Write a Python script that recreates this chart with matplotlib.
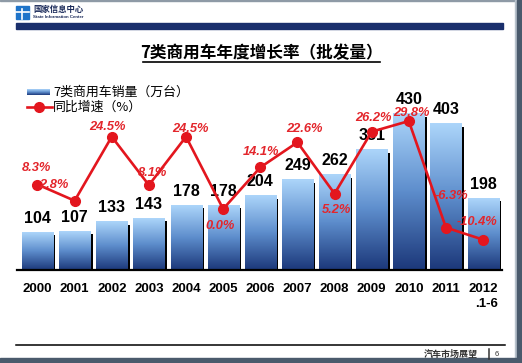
import numpy as np
import matplotlib.pyplot as plt
from matplotlib.colors import LinearSegmentedColormap
from matplotlib.lines import Line2D
from matplotlib.patches import Rectangle

# Data.
years = ['2000', '2001', '2002', '2003', '2004', '2005', '2006',
         '2007', '2008', '2009', '2010', '2011', '2012\n.1-6']
sales = [104, 107, 133, 143, 178, 178, 204, 249, 262, 331, 430, 403, 198]
growth = [8.3, 2.8, 24.5, 8.1, 24.5, 0.0, 14.1, 22.6, 5.2, 26.2, 29.8, -6.3, -10.4]

# Label offsets (pixels) for the percent labels, so they sit like the original.
pct_offsets = [(-1, 17), (-21, 16), (-4, 10), (4, 12), (4, 8), (-3, -17), (1, 15),
               (7, 13), (2, -16), (2, 14), (3, 8), (6, 32), (-6, 18)]

W, H = 522, 363
CJK = ['Noto Sans CJK SC', 'DejaVu Sans']
LAT = ['Liberation Sans', 'DejaVu Sans']
RED = '#e3161e'


def fbox(x, y, w, h):
    return [x / W, 1 - (y + h) / H, w / W, h / H]


def fx(x):
    return x / W


def fy(y):
    return 1 - y / H


fig = plt.figure(figsize=(W / 100, H / 100), dpi=100)
fig.patch.set_facecolor('white')

cmap = LinearSegmentedColormap.from_list('bar', ['#1c387a', '#5d8dcc', '#acd5fa'])
grad = np.linspace(1, 0, 128).reshape(-1, 1)

# Main chart.
ax = fig.add_axes(fbox(17, 60, 485, 210))
x = np.arange(len(years))
bw = 0.835
ax.bar(x + 0.065, np.array(sales) - 8, width=bw, color='black', zorder=1)
for i, v in enumerate(sales):
    ax.imshow(grad, cmap=cmap, aspect='auto', zorder=2,
              extent=[i - bw / 2, i + bw / 2, 0, v])
    ax.annotate(str(v), (i, v), xytext=(0, 14), textcoords='offset pixels',
                ha='center', va='center', fontsize=11.5, fontweight='bold',
                family=LAT, zorder=4)
ax.axhline(0, color='black', lw=1.6, zorder=3, clip_on=False)
ax.set_xlim(-0.552, 12.51)
ax.set_ylim(0, 578.5)
for s in ax.spines.values():
    s.set_visible(False)
ax.set_yticks([])
ax.set_xticks(x, years)
ax.tick_params(axis='x', length=0, pad=9)
for lab in ax.get_xticklabels():
    lab.set_fontsize(9.5)
    lab.set_fontweight('bold')
    lab.set_family(LAT)
    lab.set_multialignment('right')
    lab.set_linespacing(1.35)

ax2 = ax.twinx()
ax2.plot(x, growth, color=RED, lw=1.9, marker='o', ms=7, zorder=3)
ax2.set_ylim(-20.68, 50.5)
ax2.set_yticks([])
for s in ax2.spines.values():
    s.set_visible(False)
for i, g in enumerate(growth):
    ax2.annotate(f'{g:.1f}%', (i, g), xytext=pct_offsets[i], textcoords='offset pixels',
                 ha='center', va='center', fontsize=9.3, fontweight='bold',
                 style='italic', color='#e3262c', family=LAT)

# Legend.
lax = fig.add_axes(fbox(27, 89, 23, 6))
lax.imshow(grad, cmap=cmap, aspect='auto')
lax.axis('off')
fig.text(fx(53), fy(92.5), '7类商用车销量（万台）', va='center', fontsize=9.3, family=CJK)
fig.add_artist(Line2D([fx(27), fx(52)], [fy(107), fy(107)], color=RED, lw=1.9))
fig.add_artist(Line2D([fx(39)], [fy(107)], color=RED, marker='o', ms=7))
fig.text(fx(53), fy(107.5), '同比增速（%）', va='center', fontsize=9.3, family=CJK)

# Title with underline.
fig.text(fx(261.5), fy(53), '7类商用车年度增长率（批发量）', ha='center', va='center',
         fontsize=12, fontweight='bold', family=CJK)
fig.add_artist(Line2D([fx(143), fx(380)], [fy(61.5), fy(61.5)], color='black', lw=1.2))

# Slide header.
fig.add_artist(Rectangle((fx(16), fy(28.5)), fx(487), 5 / H, color='#1a2f6c',
                         transform=fig.transFigure))
fig.add_artist(Rectangle((fx(16), fy(19)), fx(13), 13 / H, color='#1f74c9',
                         transform=fig.transFigure))
fig.add_artist(Line2D([fx(22), fx(22)], [fy(9), fy(19)], color='white', lw=1.2))
fig.add_artist(Line2D([fx(16), fx(29)], [fy(12), fy(12)], color='white', lw=1.2))
fig.text(fx(33), fy(9.5), '国家信息中心', va='center', fontsize=6, fontweight='bold',
         color='#1a2a5a', family=CJK)
fig.text(fx(33), fy(17.5), 'State Information Center', va='center', fontsize=3.2,
         fontweight='bold', color='#1a2a5a', family=LAT)

# Slide footer.
fig.add_artist(Line2D([fx(16), fx(505)], [fy(345), fy(345)], color='black', lw=1.1))
fig.text(fx(478), fy(355), '汽车市场展望', ha='right', va='center', fontsize=6.5,
         fontweight='bold', color='#333333', family=CJK)
fig.add_artist(Line2D([fx(489), fx(489)], [fy(349), fy(359)], color='#333333', lw=1.1))
fig.text(fx(497), fy(355), '6', ha='center', va='center', fontsize=5.5, color='#333333',
         family=LAT)

# Slide frame.
fig.add_artist(Rectangle((0, fy(1.2)), 1, 1.2 / H, color='#8e9aa6', transform=fig.transFigure))
fig.add_artist(Rectangle((fx(515), 0), 1.5 / W, 1, color='#b8c2cc', transform=fig.transFigure))
fig.add_artist(Rectangle((fx(516.5), 0), 1, 1, color='#4a5a6c', transform=fig.transFigure))
fig.add_artist(Rectangle((0, 0), 1, 5 / H, color='#4a5a6c', transform=fig.transFigure))

fig.savefig('out.png', dpi=100, facecolor='white')
